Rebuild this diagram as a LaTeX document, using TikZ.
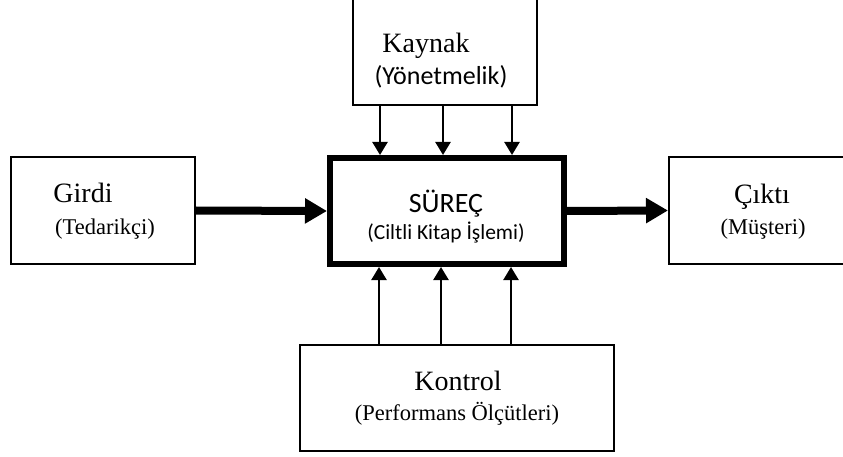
\documentclass[tikz,border=0pt]{standalone}
\usepackage{fontspec}
\setmainfont{Liberation Serif}
\newfontfamily\calib{Carlito}
\usetikzlibrary{arrows.meta}
\tikzset{
  box/.style={draw=black, line width=2pt, fill=white, inner sep=0pt},
  procbox/.style={draw=black, line width=6pt, fill=white, inner sep=0pt},
  thinarrow/.style={line width=2.3pt, -{Triangle[length=13pt,width=15pt]}},
  thickarrow/.style={line width=8pt, -{Triangle[length=22pt,width=24pt]}},
  maintxt/.style={font=\fontsize{28}{30}\selectfont, anchor=base, inner sep=0pt},
  subtxt/.style={font=\fontsize{22.5}{24}\selectfont, anchor=base, inner sep=0pt},
}
\begin{document}
\begin{tikzpicture}[x=1pt,y=-1pt]
\useasboundingbox (0,0) rectangle (843,457);
% boxes
\node[box, minimum width=184pt, minimum height=112pt] (kaynak) at (445,49) {};
\node[box, minimum width=184pt, minimum height=107pt] (girdi) at (103,210.5) {};
\node[procbox, minimum width=234pt, minimum height=106pt] (surec) at (447,211) {};
\node[box, minimum width=186pt, minimum height=107pt] (cikti) at (762,210.5) {};
\node[box, minimum width=314pt, minimum height=106pt] (kontrol) at (457,398) {};
% texts
\node[maintxt] (kaynakT) at (426,53) {Kaynak};
\node[subtxt, font=\calib\fontsize{26}{28}\selectfont] (kaynakS) at (441,85) {(Yönetmelik)};
\node[maintxt] (girdiT) at (83,203) {Girdi};
\node[subtxt] (girdiS) at (105,234) {(Tedarikçi)};
\node[maintxt, font=\calib\fontsize{28}{30}\selectfont] (surecT) at (446,213) {SÜREÇ};
\node[subtxt, font=\calib\fontsize{21.5}{23}\selectfont] (surecS) at (446,239) {(Ciltli Kitap İşlemi)};
\node[maintxt] (ciktiT) at (762,204) {Çıktı};
\node[subtxt] (ciktiS) at (763,234) {(Müşteri)};
\node[maintxt] (kontrolT) at (458,390) {Kontrol};
\node[subtxt] (kontrolS) at (457,420) {(Performans Ölçütleri)};
% arrow x positions
\coordinate (a1) at (380,0);
\coordinate (a2) at (443,0);
\coordinate (a3) at (512,0);
\coordinate (b1) at (379,0);
\coordinate (b2) at (441,0);
\coordinate (b3) at (511,0);
% resource arrows
\foreach \c in {a1,a2,a3}
  \draw[thinarrow] (kaynak.south -| \c) -- (surec.north -| \c);
% control arrows
\foreach \c in {b1,b2,b3}
  \draw[thinarrow] (kontrol.north -| \c) -- (surec.south -| \c);
% input / output
\draw[thickarrow] (girdi.east) -- (surec.west);
\draw[thickarrow] (surec.east) -- (cikti.west);
\end{tikzpicture}
\end{document}
